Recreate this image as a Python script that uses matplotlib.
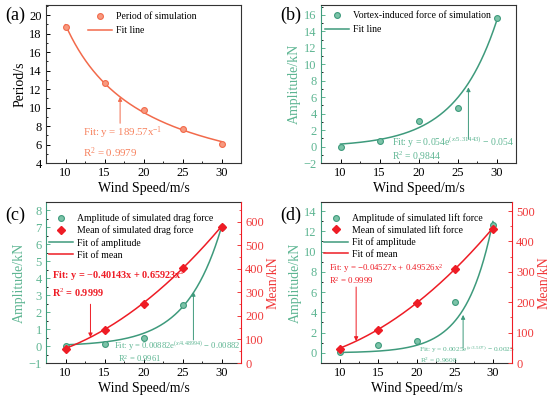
import numpy as np
import matplotlib
matplotlib.use("Agg")
import matplotlib.pyplot as plt
from matplotlib.ticker import AutoMinorLocator, MultipleLocator
from matplotlib.lines import Line2D

plt.rcParams['font.family'] = ['Liberation Serif', 'DejaVu Serif']
plt.rcParams['mathtext.fontset'] = 'custom'
plt.rcParams['mathtext.rm'] = 'Liberation Serif'
plt.rcParams['mathtext.it'] = 'Liberation Serif:italic'
plt.rcParams['mathtext.bf'] = 'Liberation Serif:bold'

# ---------------- data ----------------
wind_speed = [10, 15, 20, 25, 30]

period_sim = [18.7, 12.7, 9.75, 7.7, 6.1]
period_fit_coef = 189.57                      # y = a / x

vortex_sim = [0.0, 0.65, 3.15, 4.7, 15.6]
vortex_fit = (0.054, 5.31443)                 # y = a*exp(x/b) - a

drag_amp = [0.0, 0.15, 0.45, 2.45, 7.0]
drag_amp_fit = (0.00882, 4.48994)
drag_mean = [60, 140, 253, 403, 578]
drag_mean_fit = (-0.40143, 0.65923)           # y = b1*x + b2*x^2

lift_amp = [0.05, 0.75, 1.15, 5.0, 12.6]
lift_amp_fit = (0.0025, 3.507)
lift_mean = [47, 110, 197, 308, 442]
lift_mean_fit = (-0.04527, 0.49526)

x_ticks = [10, 15, 20, 25, 30]

# ---------------- styles ----------------
ORANGE = '#F26A4B'
ORANGE_T = '#F7825F'
GREEN = '#3E9A7C'
GREEN_T = '#5DB592'
RED = '#EE1C25'
RED_T = '#F0393A'
LEG_FS = 7.0
MS = 4.2

xs = np.linspace(10, 30, 300)

fig = plt.figure(figsize=(5.5, 3.99), dpi=100)
W, H = 550.0, 399.0

def make_ax(l, r, t, b):
    return fig.add_axes([l / W, 1 - b / H, (r - l) / W, (b - t) / H])

def style_x(ax):
    ax.set_xlim(7.5, 32.5)
    ax.set_xticks(x_ticks)
    ax.xaxis.set_minor_locator(AutoMinorLocator(2))
    ax.set_xlabel('Wind Speed/m/s', fontsize=10, labelpad=2)
    ax.tick_params(axis='both', which='major', direction='in', length=3, width=0.7, labelsize=9, pad=3)
    ax.tick_params(axis='both', which='minor', direction='in', length=1.5, width=0.6)
    for s in ax.spines.values():
        s.set_linewidth(0.8)
        s.set_color('#333333')

def arrow(ax, xy, xytext, color):
    ax.annotate('', xy=xy, xytext=xytext,
                arrowprops=dict(arrowstyle='-|>', color=color, lw=0.7,
                                mutation_scale=6, shrinkA=0, shrinkB=0))

def ball(color, face):
    return dict(marker='o', markersize=MS, markerfacecolor=face,
                markeredgecolor=color, markeredgewidth=0.8, linestyle='none')

def legend(ax, handles, labels, x0, y0, spacing):
    ax.legend(handles, labels, loc='upper left', bbox_to_anchor=(x0, y0),
              frameon=False, fontsize=LEG_FS, handlelength=2.5, handletextpad=0.35,
              labelspacing=spacing, borderaxespad=0, borderpad=0)

# ---------------- (a) ----------------
ax = make_ax(46, 241, 5, 163)
style_x(ax)
ax.set_ylim(4, 21.1)
ax.yaxis.set_major_locator(MultipleLocator(2))
ax.yaxis.set_minor_locator(AutoMinorLocator(2))
ax.plot(xs, period_fit_coef / xs, color=ORANGE, lw=1.1)
ax.plot(wind_speed, period_sim, **ball(ORANGE, '#F79A80'))
ax.set_ylabel('Period/s', fontsize=10, labelpad=2)
arrow(ax, (17, 11.15), (17, 8.3), ORANGE)
ax.text(12.3, 7.3, 'Fit: y = 189.57x$^{-1}$', color=ORANGE_T, fontsize=7.8, va='center')
ax.text(12.3, 5.1, 'R$^2$ = 0.9979', color=ORANGE_T, fontsize=7.8, va='center')
h = [Line2D([], [], **ball(ORANGE, '#F79A80')),
     Line2D([], [], color=ORANGE, lw=1.1)]
legend(ax, h, ['Period of simulation', 'Fit line'], (88 - 46) / 195, 0.955, 0.5)
fig.text(5 / W, 1 - 15 / H, '(a)', fontsize=13, va='center')

# ---------------- (b) ----------------
ax = make_ax(321, 516, 5, 163)
style_x(ax)
ax.set_ylim(-2, 17.2)
ax.yaxis.set_major_locator(MultipleLocator(2))
ax.yaxis.set_minor_locator(AutoMinorLocator(2))
a, b = vortex_fit
ax.plot(xs, a * np.exp(xs / b) - a, color=GREEN, lw=1.1)
ax.plot(wind_speed, vortex_sim, **ball(GREEN, '#7CC3A8'))
ax.set_ylabel('Amplitude/kN', fontsize=10, color=GREEN_T, labelpad=2)
ax.tick_params(axis='y', colors=GREEN_T)
ax.spines['left'].set_color(GREEN)
arrow(ax, (26.4, 7.2), (26.4, 0.9), GREEN)
ax.text(16.6, 0.45, 'Fit: y = 0.054e$^{(x/5.31443)}$ $-$ 0.054', color=GREEN_T, fontsize=6.9, va='center')
ax.text(16.6, -1.15, 'R$^2$ = 0.9844', color=GREEN_T, fontsize=6.9, va='center')
h = [Line2D([], [], **ball(GREEN, '#7CC3A8')),
     Line2D([], [], color=GREEN, lw=1.1)]
legend(ax, h, ['Vortex-induced force of simulation', 'Fit line'], (325 - 321) / 195, 0.96, 0.5)
fig.text(280 / W, 1 - 15 / H, '(b)', fontsize=13, va='center')

# ---------------- (c)/(d) ----------------
def dual_panel(l, r, ylim_l, ylim_r, yl_step, yr_step, amp, amp_fit, mean, mean_fit,
               amp_lbl, mean_lbl):
    ax = make_ax(l, r, 202, 363)
    style_x(ax)
    ax.set_ylim(*ylim_l)
    ax.yaxis.set_major_locator(MultipleLocator(yl_step))
    ax.yaxis.set_minor_locator(AutoMinorLocator(2))
    ax.tick_params(axis='y', colors=GREEN_T)
    ax.spines['left'].set_color(GREEN)
    ax.spines['right'].set_visible(False)
    ax.set_ylabel('Amplitude/kN', fontsize=10, color=GREEN_T, labelpad=2)
    ax2 = ax.twinx()
    ax2.set_ylim(*ylim_r)
    ax2.yaxis.set_major_locator(MultipleLocator(yr_step))
    ax2.yaxis.set_minor_locator(AutoMinorLocator(2))
    ax2.tick_params(axis='y', which='major', direction='in', length=3, width=0.7,
                    labelsize=9, colors=RED_T, pad=3)
    ax2.tick_params(axis='y', which='minor', direction='in', length=1.5, width=0.6, colors=RED_T)
    for s in ax2.spines.values():
        s.set_visible(False)
    ax2.spines['right'].set_visible(True)
    ax2.spines['right'].set_color(RED)
    ax2.spines['right'].set_linewidth(0.8)
    ax2.set_ylabel('Mean/kN', fontsize=10, color=RED_T, labelpad=2)
    a, b = amp_fit
    ax.plot(xs, a * np.exp(xs / b) - a, color=GREEN, lw=1.1)
    ax.plot(wind_speed, amp, **ball(GREEN, '#7CC3A8'))
    b1, b2 = mean_fit
    ax2.plot(xs, b1 * xs + b2 * xs ** 2, color=RED, lw=1.1)
    ax2.plot(wind_speed, mean, marker='D', markersize=4, color=RED, linestyle='none')
    h = [Line2D([], [], **ball(GREEN, '#7CC3A8')),
         Line2D([], [], marker='D', markersize=4, color=RED, linestyle='none'),
         Line2D([], [], color=GREEN, lw=1.1),
         Line2D([], [], color=RED, lw=1.1)]
    legend(ax2, h, [amp_lbl, mean_lbl, 'Fit of amplitude', 'Fit of mean'],
           3 / (r - l), 0.93, 0.28)
    return ax, ax2

ax, ax2 = dual_panel(46, 241, (-1, 8.5), (0, 685), 1, 100, drag_amp, drag_amp_fit,
                     drag_mean, drag_mean_fit,
                     'Amplitude of simulated drag force', 'Mean of simulated drag force')
ax2.text(8.3, 372, 'Fit: y = $-$0.40143x + 0.65923x$^2$', color=RED, fontsize=7.4,
         fontweight='bold', va='center')
ax2.text(8.3, 300, 'R$^2$ = 0.9999', color=RED, fontsize=7.4, fontweight='bold', va='center')
arrow(ax2, (13.2, 109), (13.2, 250), RED)
arrow(ax, (26.4, 3.2), (26.4, 0.36), GREEN)
ax.text(16.2, 0.0, 'Fit: y = 0.00882e$^{(x/4.48994)}$ $-$ 0.00882', color=GREEN_T,
        fontsize=6.2, va='center')
ax.text(16.7, -0.75, 'R$^2$ = 0.9961', color=GREEN_T, fontsize=6.2, va='center')
fig.text(5 / W, 1 - 215 / H, '(c)', fontsize=13, va='center')

ax, ax2 = dual_panel(321, 512, (-1, 14.9), (0, 530), 2, 100, lift_amp, lift_amp_fit,
                     lift_mean, lift_mean_fit,
                     'Amplitude of simulated lift force', 'Mean of simulated lift force')
ax.text(8.6, 8.3, 'Fit: y = $-$0.04527x + 0.49526x$^2$', color=RED, fontsize=6.4, va='center')
ax.text(8.6, 7.1, 'R$^2$ = 0.9999', color=RED, fontsize=6.4, va='center')
arrow(ax2, (12.1, 72), (12.1, 250), RED)
arrow(ax, (26.1, 3.75), (26.1, 0.5), GREEN)
ax.text(20.3, 0.3, 'Fit: y = 0.0025e$^{(x/3.507)}$ $-$ 0.0025', color=GREEN_T,
        fontsize=5.3, va='center')
ax.text(20.5, -0.7, 'R$^2$ = 0.9608', color=GREEN_T, fontsize=5.3, va='center')
fig.text(280 / W, 1 - 215 / H, '(d)', fontsize=13, va='center')

fig.savefig('out.png', dpi=100)
